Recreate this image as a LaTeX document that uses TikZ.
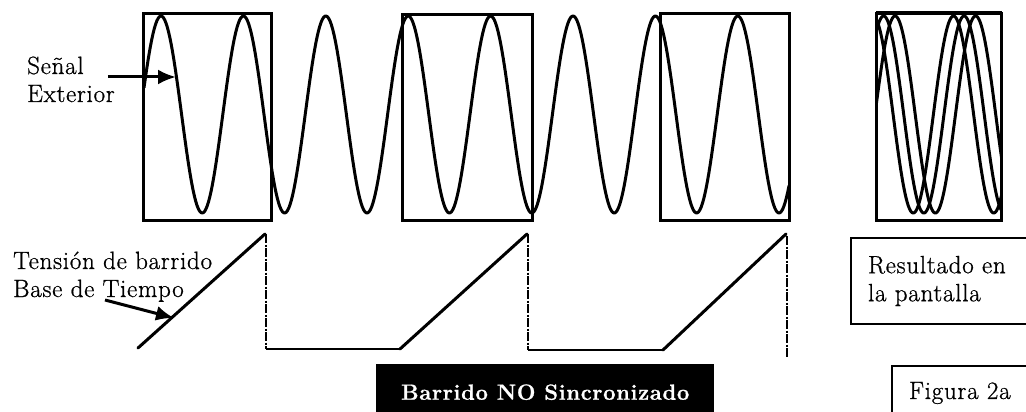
\documentclass[tikz,border=0pt]{standalone}
\usepackage{fontspec}
\setmainfont{Latin Modern Roman}[LetterSpace=3, FakeBold=0.8]
\usetikzlibrary{arrows.meta, positioning}

\begin{document}
\begin{tikzpicture}[
    x=1pt, y=-1pt, >={Latex[length=18pt, width=15pt]},
    font=\fontsize{25}{28}\selectfont,
    pantalla/.style={draw, line width=3pt},
    onda/.style={line width=3pt, line join=round},
    rampa/.style={line width=3pt, line cap=round},
    base/.style={line width=2pt},
    retorno/.style={line width=2pt, dash pattern=on 9pt off 1.5pt on 2pt off 1.5pt},
    etiqueta/.style={align=left, inner sep=0pt, anchor=base west},
    flecha/.style={->, line width=3pt},
    recuadro/.style={draw, line width=2pt, align=left, anchor=north west, inner xsep=17pt}]
  \useasboundingbox (0,0) rectangle (1026,412);
  % pantallas del barrido
  \draw[pantalla] (143.5,13.5) rectangle (271.5,220.5);
  \draw[pantalla] (402,14.5) rectangle (532,220);
  \draw[pantalla] (660.5,13.5) rectangle (789.5,220);
  % senal exterior
  \draw[onda] plot[domain=144:789, samples=500] (\x, {114.5-98.5*cos((\x-161)/82.4*360)});
  % resultado en la pantalla
  \draw[pantalla] (876.5,13.5) rectangle (1001.5,220.5);
  \draw[line width=2pt] (876,12.5) -- (1002,12.5);
  \begin{scope}
    \clip (878,15) rectangle (1000,219);
    \foreach \off in {18.6, 7.1, -3.5}
      \draw[onda] plot[domain=866:1012, samples=200] (\x, {114.5-98.5*cos((\x-876.5-\off)/80.5*360)});
  \end{scope}
  % tension de barrido
  \draw[rampa] (138,348) -- (265,234);
  \draw[retorno] (266,234) -- (266,349);
  \draw[base] (266,349) -- (400,349);
  \draw[rampa] (400,349) -- (527,234);
  \draw[retorno] (528,234) -- (528,350);
  \draw[base] (528,350) -- (663,350);
  \draw[rampa] (663,350) -- (786,234);
  \draw[retorno] (787,236) -- (787,357);
  % etiquetas
  \node[etiqueta] (senal) at (27,102) {Señal\\Exterior};
  \coordinate (pSenal) at (176,77);
  \draw[flecha] ([xshift=-7pt]senal.east |- pSenal) -- (pSenal);
  \node[etiqueta] (tension) at (13,297) {Tensión de barrido\\Base de Tiempo};
  \coordinate (pTension) at (174,318);
  \draw[flecha] (105,300) -- (pTension);
  \node[recuadro, minimum height=86pt, text width=150pt] (resultado) at (850,237) {Resultado en\\la pantalla};
  \node[recuadro, minimum height=54pt, text width=120pt] (figura) at (891,365) {Figura 2a};
  \node[fill=black, text=white, font=\fontsize{22}{27}\selectfont\bfseries, anchor=north west,
    minimum width=338pt, minimum height=56pt, inner sep=0pt] (titulo) at (376,364) {Barrido NO Sincronizado};
\end{tikzpicture}
\end{document}
